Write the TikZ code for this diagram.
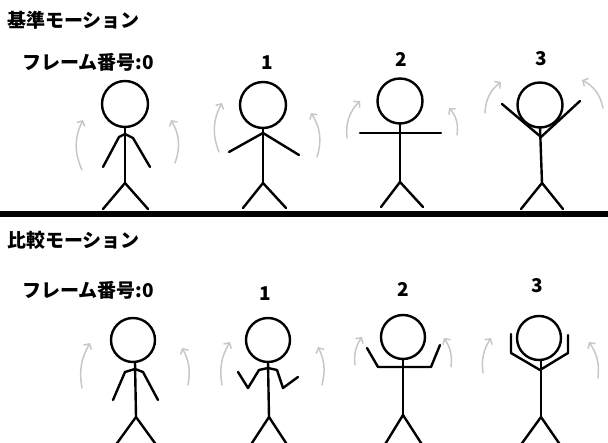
\documentclass[tikz,border=0pt]{standalone}
\usepackage{fontspec}
\newfontfamily\jpfont{Noto Sans CJK JP}
\usetikzlibrary{arrows.meta}

\begin{document}
\begin{tikzpicture}[x=1pt,y=-1pt,
    stick/.style={line width=2.4pt,line cap=round,line join=round},
    turn/.style={draw=black!22,line width=1.5pt,line cap=round,
      -{Straight Barb[length=4pt,width=9pt]}},
    frametext/.style={font=\jpfont\bfseries\fontsize{19}{21}\selectfont,inner sep=0pt}]
\useasboundingbox (0,0) rectangle (608,443);

% reference motion (top row)
\node[frametext,anchor=base west] (reftitle) at (7,28) {基準モーション};
\node[frametext,anchor=base west] (refno0) at (22,70) {フレーム番号:0};
\node[frametext,anchor=base] (refno1) at (267,70) {1};
\node[frametext,anchor=base] (refno2) at (401,67) {2};
\node[frametext,anchor=base] (refno3) at (541,66) {3};

% frame 0
\draw[stick] (125,104) circle[radius=23];
\draw[stick] (125,127) -- (125,183);
\draw[stick] (103,167) -- (119,137) -- (125,134) -- (133,138) -- (150,167);
\draw[stick] (103,209) -- (125,183) -- (148,209);
% frame 1
\draw[stick] (263,105) circle[radius=23];
\draw[stick] (263,128) -- (263,183);
\draw[stick] (229,152) -- (263,133) -- (299,155);
\draw[stick] (243,208) -- (263,183) -- (286,208);
% frame 2
\draw[stick] (400,101) circle[radius=22.5];
\draw[stick] (400,123) -- (400,182);
\draw[stick] (360,133) -- (441,133);
\draw[stick] (381,207) -- (400,182) -- (423,207);
% frame 3
\draw[stick] (540,105) circle[radius=22.5];
\draw[stick] (540,127) -- (542,183);
\draw[stick] (502,104) -- (541,137) -- (580,101);
\draw[stick] (521,209) -- (542,183) -- (563,209);

% arm swings
\draw[turn] (82,170) to[bend left=25] (83,120);
\draw[turn] (175,163) to[bend right=25] (171,120);
\draw[turn] (219,152) to[bend left=25] (222,103);
\draw[turn] (317,157) to[bend right=25] (311,113);
\draw[turn] (347,138) to[bend left=25] (360,101);
\draw[turn] (457,135) to[bend right=25] (449,108);
\draw[turn] (485,113) to[bend left=25] (501,82);
\draw[turn] (603,108) to[bend right=25] (582,80);

% ground
\draw[line width=6pt] (0,214) -- (608,214);

% compared motion (bottom row)
\node[frametext,anchor=base west] (cmptitle) at (7,248) {比較モーション};
\node[frametext,anchor=base west] (cmpno0) at (22,298) {フレーム番号:0};
\node[frametext,anchor=base] (cmpno1) at (265,301) {1};
\node[frametext,anchor=base] (cmpno2) at (403,297) {2};
\node[frametext,anchor=base] (cmpno3) at (537,293) {3};

% frame 0
\draw[stick] (133,340) circle[radius=22];
\draw[stick] (135,362) -- (136,417);
\draw[stick] (113,400) -- (125,372) -- (135,369) -- (143,372) -- (158,400);
\draw[stick] (115,446) -- (136,417) -- (157,446);
% frame 1
\draw[stick] (268,340) circle[radius=22];
\draw[stick] (268,362) -- (269,417);
\draw[stick] (238,372) -- (248,388) -- (259,370) -- (268,368) -- (277,370) -- (283,388) -- (298,377);
\draw[stick] (250,446) -- (269,417) -- (288,446);
% frame 2
\draw[stick] (403,337) circle[radius=22];
\draw[stick] (403,359) -- (403,415);
\draw[stick] (367,348) -- (378,367) -- (431,367) -- (440,345);
\draw[stick] (384,446) -- (403,415) -- (423,446);
% frame 3
\draw[stick] (539,338) circle[radius=22];
\draw[stick] (541,360) -- (541,417);
\draw[stick] (511,334) -- (511,353) -- (540,370) -- (568,353) -- (568,335);
\draw[stick] (520,446) -- (541,417) -- (561,446);

% arm swings
\draw[turn] (82,388) to[bend left=20] (90,343);
\draw[turn] (188,385) to[bend right=20] (182,348);
\draw[turn] (222,385) to[bend left=20] (230,342);
\draw[turn] (322,385) to[bend right=20] (318,347);
\draw[turn] (355,365) to[bend left=20] (362,337);
\draw[turn] (451,367) to[bend right=20] (444,338);
\draw[turn] (483,373) to[bend left=20] (491,338);
\draw[turn] (598,378) to[bend right=20] (589,342);
\end{tikzpicture}
\end{document}
